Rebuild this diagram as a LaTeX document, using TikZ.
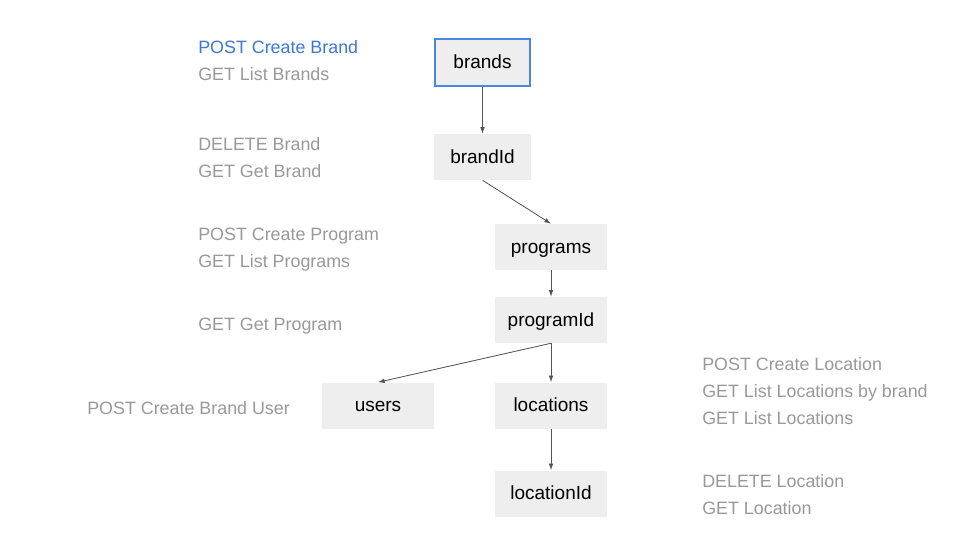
\documentclass[tikz,border=0pt]{standalone}
\usepackage{fontspec}
\setmainfont{Liberation Sans}
\usetikzlibrary{arrows.meta,positioning}
\definecolor{boxfill}{HTML}{EEEEEE}
\definecolor{selblue}{HTML}{4A86E8}
\definecolor{posttext}{HTML}{3C78D8}
\definecolor{calltext}{HTML}{999999}
\definecolor{arrgray}{HTML}{555555}
\begin{document}
\begin{tikzpicture}[
  x=0.75pt,y=-0.75pt,
  res/.style={fill=boxfill, minimum width=84pt, minimum height=34.5pt, inner sep=0pt, text height=10.5pt, text depth=0.8pt, font=\fontsize{14.25}{17}\selectfont},
  calls/.style={anchor=west, align=left, inner sep=0pt, text=calltext, font=\fontsize{13.4}{20.25}\selectfont},
  arr/.style={-{Latex[length=5pt,width=3.5pt]}, draw=arrgray, fill=arrgray, line width=0.6pt}
]
\useasboundingbox[fill=white] (0,0) rectangle (960,540);
% resource boxes
\node[res, draw=selblue, line width=1.5pt, minimum width=71.25pt, minimum height=35.25pt] (brands) at (482.5,62.5) {brands};
\node[res, minimum width=72.75pt] (brandid) at (482.5,157) {brandId};
\node[res] (programs) at (551,247) {programs};
\node[res] (programid) at (551,320) {programId};
\node[res] (users) at (378,405.5) {users};
\node[res] (locations) at (551,405.5) {locations};
\node[res] (locationid) at (551,493.5) {locationId};
\foreach \a/\b in {brands/brandid,brandid/programs,programs/programid,programid/users,programid/locations,locations/locationid}{\draw[arr] (\a.south) -- (\b.north);}
% method lists
\node[calls] (brandcalls) at (198,61) {\textcolor{posttext}{POST Create Brand}\\GET List Brands};
\node[calls] (brandidcalls) at (198,158) {DELETE Brand\\GET Get Brand};
\node[calls] (programcalls) at (198,250) {POST Create Program\\GET List Programs};
\node[calls] (programidcalls) at (198,326) {GET Get Program};
\node[calls] (usercalls) at (87,408) {POST Create Brand User};
\node[calls] (locationcalls) at (702,391) {POST Create Location\\GET List Locations by brand\\GET List Locations};
\node[calls] (locationidcalls) at (702,495) {DELETE Location\\GET Location};
\end{tikzpicture}
\end{document}
